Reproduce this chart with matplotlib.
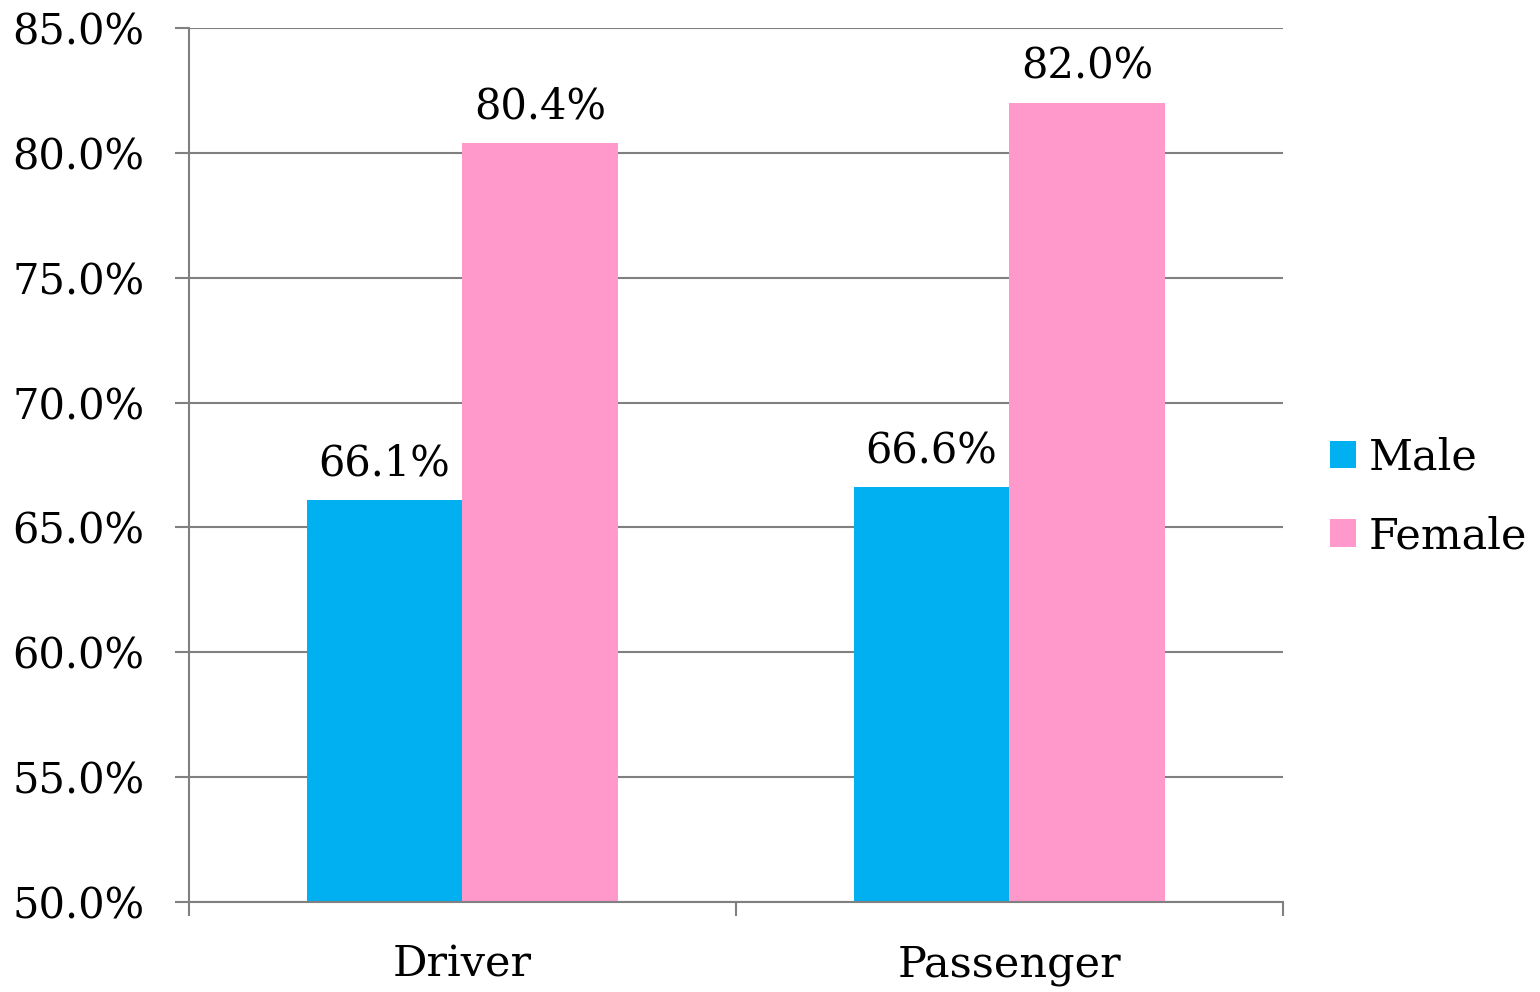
import matplotlib.pyplot as plt
import numpy as np

categories = ["Driver", "Passenger"]
male = [66.1, 66.6]
female = [80.4, 82.0]
series_names = ["Male", "Female"]
colors = ["#00B0F0", "#FF99CC"]

plt.rcParams['font.family'] = ['DejaVu Serif']
FS = 30

fig = plt.figure(figsize=(15.4, 9.92), dpi=100)
ax = fig.add_axes([189/1540, 1 - 902/992, (1283-189)/1540, (902-28)/992])

x = np.arange(len(categories))
w = 0.285
b1 = ax.bar(x - w/2, male, w, color=colors[0], label=series_names[0], zorder=3)
b2 = ax.bar(x + w/2, female, w, color=colors[1], label=series_names[1], zorder=3)

for bars in (b1, b2):
    for r in bars:
        h = r.get_height()
        ax.text(r.get_x() + r.get_width()/2, h + 0.6, f"{h:.1f}%",
                ha='center', va='bottom', fontsize=FS)

ax.set_ylim(50, 85)
ax.set_xlim(-0.5, 1.5)
yt = np.arange(50, 86, 5)
ax.set_yticks(yt)
ax.set_yticklabels([f"{v:.1f}%" for v in yt], fontsize=FS)
ax.yaxis.grid(True, color='#808080', linewidth=1.5, zorder=0)

# category boundaries as ticks, labels in the middle
ax.set_xticks([-0.5, 0.5, 1.5])
ax.set_xticklabels([])
ax.set_xticks(x, minor=True)
ax.set_xticklabels(categories, minor=True, fontsize=31)
ax.tick_params(axis='x', which='minor', length=0, pad=30)
ax.tick_params(axis='x', which='major', length=10, width=1.5, color='#808080')
ax.tick_params(axis='y', length=10, width=1.5, color='#808080', pad=22)

for s in ['top', 'right']:
    ax.spines[s].set_visible(False)
for s in ['left', 'bottom']:
    ax.spines[s].set_color('#808080')
    ax.spines[s].set_linewidth(1.5)
    ax.spines[s].set_zorder(4)

leg = fig.legend(handles=[b1, b2], loc='center left', bbox_to_anchor=(1330/1540, 1 - 497/992),
                 frameon=False, fontsize=31, handlelength=0.6, handleheight=0.6,
                 handletextpad=0.3, labelspacing=0.85, borderaxespad=0, borderpad=0)

fig.savefig("out.png", dpi=100)
